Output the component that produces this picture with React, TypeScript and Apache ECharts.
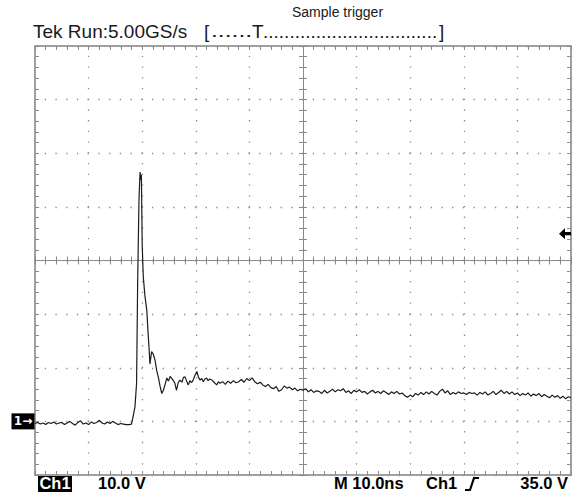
import React, { useEffect, useRef } from "react";
import * as echarts from "echarts";

// ---------- texts ----------
const titleText = "Tek Run:5.00GS/s";
const bracketOpen = "[";
const preTriggerDots = "......";
const triggerMark = "T";
const postTriggerDots = ".................................";
const bracketClose = "]";
const triggerModeText = "Sample trigger";
const channelBadge = "Ch1";
const voltsPerDivText = "10.0 V";
const timebaseText = "M 10.0ns";
const triggerSourceText = "Ch1";
const triggerLevelText = "35.0 V";
const groundMarkerText = "1\u2192";

// ---------- scales ----------
const timeMin = 0;
const timeMax = 100; // ns (10 divisions x 10 ns)
const timeStep = 10;
const voltMin = -10;
const voltMax = 70; // V (8 divisions x 10 V)
const voltStep = 10;
const groundLevel = 0;
const triggerLevel = 35;

// ---------- Ch1 trace [ns, V] ----------
const baselineTrace: [number, number][] = [
  [0, -0.4], [0.5, -0.2], [1, -0.5], [1.5, -0.3], [2, -0.6], [2.5, -0.2], [3, -0.4], [3.5, -0.1],
  [4, -0.5], [4.5, -0.3], [5, -0.2], [5.5, -0.6], [6, -0.3], [6.5, 0.0], [7, -0.4], [7.5, -0.7],
  [8, -0.2], [8.5, 0.1], [9, -0.5], [9.5, -0.3], [10, -0.6], [10.5, -0.1], [11, -0.4], [11.5, -0.2],
  [12, 0.2], [12.5, -0.3], [13, -0.5], [13.5, -0.1], [14, -0.4], [14.5, 0.0], [15, -0.3], [15.5, -0.6],
  [16, -0.4], [16.5, -0.5], [17, -0.6], [17.5, -0.6], [18, -0.5],
];

const pulseTrace: [number, number][] = [
  [18.3, 0.9], [18.65, 2.7], [18.95, 7.1], [19.15, 25.8], [19.4, 41.3], [19.6, 46.5], [19.75, 45.0],
  [19.85, 46.0], [20.0, 33.0], [20.2, 27.0], [20.5, 23.5], [20.85, 20.8], [21.1, 16.5], [21.3, 13.3],
  [21.45, 10.7], [21.75, 13.0], [22.05, 12.6], [22.4, 11.4], [22.7, 9.5], [23.0, 8.3], [23.3, 6.7],
  [23.65, 5.2], [23.95, 5.8], [24.3, 7.0], [24.6, 8.1], [24.9, 7.5], [25.2, 8.4], [25.5, 8.0],
  [25.8, 7.6], [26.1, 7.1], [26.4, 5.8], [26.7, 7.2], [27.05, 7.7], [27.4, 7.3], [27.7, 8.2],
  [28.0, 8.3], [28.3, 7.5], [28.6, 6.8], [28.9, 7.6], [29.2, 7.2], [29.5, 7.7], [29.85, 8.6],
  [30.2, 9.3], [30.5, 8.2], [30.8, 7.7], [31.1, 8.0], [31.4, 7.4], [31.7, 7.9], [32.0, 8.1],
  [32.3, 7.6], [32.6, 7.9], [33.0, 7.7], [33.4, 7.3], [33.9, 6.8], [34.2, 7.4], [34.5, 7.1],
];

const tailTrace: [number, number][] = [
  [35.0, 7.4], [35.5, 6.9], [36.0, 7.5], [36.5, 7.1], [37.0, 7.6], [37.5, 7.2], [38.0, 7.4], [38.5, 7.8],
  [39.0, 7.3], [39.5, 8.0], [40.0, 7.6], [40.5, 8.1], [41.0, 7.4], [41.5, 7.0], [42.0, 7.3], [42.5, 6.8],
  [43.0, 6.5], [43.5, 6.9], [44.0, 6.3], [44.5, 6.1], [45.0, 6.5], [45.5, 5.6], [46.0, 5.9], [46.5, 6.6],
  [47.0, 6.2], [47.5, 6.4], [48.0, 5.9], [48.5, 6.2], [49.0, 5.7], [49.5, 6.0], [50.0, 5.8], [50.5, 6.1],
  [51.0, 5.5], [51.5, 5.9], [52.0, 5.4], [52.5, 5.7], [53.0, 5.6], [53.5, 5.2], [54.0, 5.8], [54.5, 5.3],
  [55.0, 5.6], [55.5, 6.0], [56.0, 5.5], [56.5, 5.9], [57.0, 5.7], [57.5, 6.1], [58.0, 5.4], [58.5, 5.7],
  [59.0, 5.2], [59.5, 5.8], [60.0, 5.5], [60.5, 5.9], [61.0, 5.4], [61.5, 5.6], [62.0, 5.1], [62.5, 5.5],
  [63.0, 5.8], [63.5, 5.3], [64.0, 5.6], [64.5, 5.2], [65.0, 5.7], [65.5, 5.4], [66.0, 5.0], [66.5, 5.5],
  [67.0, 5.2], [67.5, 5.6], [68.0, 5.1], [68.5, 5.3], [69.0, 4.8], [69.5, 4.5], [70.0, 4.9], [70.5, 4.6],
  [71.0, 5.2], [71.5, 4.9], [72.0, 5.4], [72.5, 5.0], [73.0, 5.5], [73.5, 5.1], [74.0, 5.6], [74.5, 5.2],
  [75.0, 4.9], [75.5, 5.6], [76.0, 6.0], [76.5, 5.3], [77.0, 5.7], [77.5, 5.0], [78.0, 5.4], [78.5, 5.1],
  [79.0, 5.5], [79.5, 5.2], [80.0, 5.3], [80.5, 5.0], [81.0, 5.4], [81.5, 5.2], [82.0, 5.3], [82.5, 4.9],
  [83.0, 5.4], [83.5, 5.1], [84.0, 5.5], [84.5, 4.9], [85.0, 5.2], [85.5, 5.6], [86.0, 5.0], [86.5, 5.4],
  [87.0, 5.8], [87.5, 5.2], [88.0, 5.6], [88.5, 5.1], [89.0, 5.5], [89.5, 5.0], [90.0, 5.3], [90.5, 4.8],
  [91.0, 5.2], [91.5, 4.9], [92.0, 5.3], [92.5, 4.7], [93.0, 5.1], [93.5, 4.8], [94.0, 5.2], [94.5, 4.6],
  [95.0, 5.0], [95.5, 4.7], [96.0, 4.4], [96.5, 4.9], [97.0, 4.5], [97.5, 4.8], [98.0, 4.3], [98.5, 4.7],
  [99.0, 4.2], [99.5, 4.6], [100.0, 4.4],
];

// ---------- layout / style ----------
const GRID_LEFT = 35;
const GRID_TOP = 46;
const GRID_W = 536;
const GRID_H = 429;
const frameColor = "#a0a0a0";
const tickColor = "#8c8c8c";
const centerColor = "#8a8a8a";
const dotColor = "#8a8a8a";
const traceColor = "#1c1c1c";
const sansFont = "'Liberation Sans', Arial, sans-serif";

function scaleAxis(isX: boolean, extra: any) {
  return {
    type: "value",
    min: isX ? timeMin : voltMin,
    max: isX ? timeMax : voltMax,
    interval: isX ? timeStep : voltStep,
    axisLabel: { show: false },
    splitLine: { show: false },
    axisTick: { show: true, inside: true, length: 4, lineStyle: { color: tickColor, width: 1 } },
    minorTick: { show: true, splitNumber: 5, length: 4, lineStyle: { color: tickColor, width: 1 } },
    axisLine: { show: true, onZero: false, lineStyle: { color: frameColor, width: 2 } },
    ...extra,
  };
}

const dotted = (period: number) => ({
  show: true,
  lineStyle: { color: dotColor, width: 1.3, type: [1.3, period - 1.3], dashOffset: 0.65 },
});

const centerLine = { show: true, onZero: false, lineStyle: { color: centerColor, width: 1 } };

function centerAxis(isX: boolean, inside: boolean) {
  return scaleAxis(isX, {
    position: isX ? "bottom" : "left",
    offset: isX ? -GRID_H / 2 : -GRID_W / 2,
    axisLine: centerLine,
    axisTick: { show: true, inside, length: 4, lineStyle: { color: centerColor } },
    minorTick: { show: true, splitNumber: 5, length: 4, lineStyle: { color: centerColor } },
  });
}

export default function App() {
  const ref = useRef<HTMLDivElement>(null);

  useEffect(() => {
    if (!ref.current) return;
    const chart = echarts.init(ref.current, null, { renderer: "svg" });
    const trace = [...baselineTrace, ...pulseTrace, ...tailTrace];

    const bottomFont = `bold 17px ${sansFont}`;
    const bottomY = 483.5;
    const bottomScale = 0.97;
    const topFont = `19px ${sansFont}`;

    const option: any = {
      animation: false,
      backgroundColor: "#ffffff",
      grid: { left: GRID_LEFT, top: GRID_TOP, width: GRID_W, height: GRID_H, containLabel: false },
      xAxis: [
        scaleAxis(true, { position: "bottom", splitLine: dotted(GRID_H / 40) }),
        scaleAxis(true, { position: "top" }),
        centerAxis(true, true),
        centerAxis(true, false),
      ],
      yAxis: [
        scaleAxis(false, { position: "left", splitLine: dotted(GRID_W / 50) }),
        scaleAxis(false, { position: "right" }),
        centerAxis(false, true),
        centerAxis(false, false),
      ],
      series: [
        {
          type: "line",
          name: "Ch1",
          xAxisIndex: 0,
          yAxisIndex: 0,
          data: trace,
          showSymbol: false,
          symbol: "none",
          z: 5,
          lineStyle: { color: traceColor, width: 1.2 },
          markPoint: {
            silent: true,
            data: [
              {
                name: "ground",
                coord: [timeMin, groundLevel],
                symbol: "rect",
                symbolSize: [23, 16],
                symbolOffset: [-12, 0],
                itemStyle: { color: "#000" },
                label: {
                  show: true,
                  position: "inside",
                  formatter: groundMarkerText,
                  color: "#fff",
                  fontSize: 12,
                  fontWeight: "bold",
                  fontFamily: "'DejaVu Sans', sans-serif",
                },
              },
              {
                name: "trigger",
                coord: [timeMax, triggerLevel],
                symbol: "path://M0,5 L6,0 L6,3.5 L12,3.5 L12,6.5 L6,6.5 L6,10 Z",
                symbolSize: [12, 11],
                symbolOffset: [-6, 0],
                itemStyle: { color: "#000" },
                label: { show: false },
              },
            ],
          },
        },
      ],
      graphic: [
        { type: "text", x: 33, y: 31, style: { text: titleText, font: topFont, fill: "#1a1a1a", verticalAlign: "middle" } },
        { type: "text", x: 204, y: 31, style: { text: bracketOpen, font: topFont, fill: "#1a1a1a", verticalAlign: "middle" } },
        { type: "text", x: 211, y: 31, scaleX: 1.3, style: { text: preTriggerDots, font: topFont, fill: "#1a1a1a", verticalAlign: "middle" } },
        { type: "text", x: 252, y: 31, style: { text: triggerMark, font: topFont, fill: "#1a1a1a", verticalAlign: "middle" } },
        { type: "text", x: 263, y: 31, style: { text: postTriggerDots, font: topFont, fill: "#1a1a1a", verticalAlign: "middle" } },
        { type: "text", x: 439, y: 31, style: { text: bracketClose, font: topFont, fill: "#1a1a1a", verticalAlign: "middle" } },
        { type: "text", x: 292, y: 12, style: { text: triggerModeText, font: `14px ${sansFont}`, fill: "#1a1a1a", verticalAlign: "middle" } },
        { type: "rect", shape: { x: 38, y: 476, width: 34, height: 16 }, style: { fill: "#000" } },
        { type: "text", x: 55, y: bottomY, scaleX: bottomScale, style: { text: channelBadge, font: bottomFont, fill: "#fff", align: "center", verticalAlign: "middle" } },
        { type: "text", x: 98, y: bottomY, scaleX: bottomScale, style: { text: voltsPerDivText, font: bottomFont, fill: "#000", verticalAlign: "middle" } },
        { type: "text", x: 334, y: bottomY, scaleX: bottomScale, style: { text: timebaseText, font: bottomFont, fill: "#000", verticalAlign: "middle" } },
        { type: "text", x: 426, y: bottomY, scaleX: bottomScale, style: { text: triggerSourceText, font: bottomFont, fill: "#000", verticalAlign: "middle" } },
        {
          type: "polyline",
          shape: { points: [[465, 490], [470, 490], [474, 478], [479, 478]] },
          style: { stroke: "#000", lineWidth: 2.2, fill: null },
        },
        { type: "text", x: 568, y: bottomY, scaleX: bottomScale, style: { text: triggerLevelText, font: bottomFont, fill: "#000", align: "right", verticalAlign: "middle" } },
      ],
    };

    chart.setOption(option);
    return () => chart.dispose();
  }, []);

  return (
    <div
      ref={ref}
      style={{ position: "absolute", left: 0, top: 0, width: 581, height: 492, background: "#fff" }}
    />
  );
}
